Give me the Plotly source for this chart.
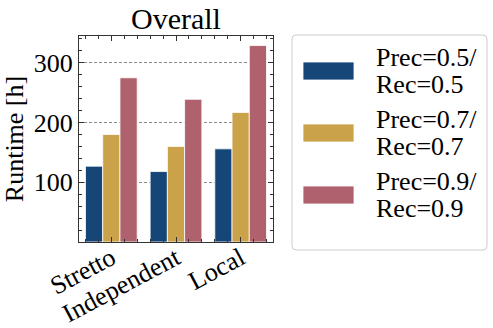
import plotly.graph_objects as go

categories = ["Stretto", "Independent", "Local"]
legend_lines = [["Prec=0.5/", "Rec=0.5"], ["Prec=0.7/", "Rec=0.7"], ["Prec=0.9/", "Rec=0.9"]]
series_names = ["<br>".join(l) for l in legend_lines]
vals_05 = [127, 118, 156]
vals_07 = [180, 160, 217]
vals_09 = [275, 239, 329]
series_values = [vals_05, vals_07, vals_09]
colors = ["#164678", "#c9a249", "#af616d"]
y_tickvals = [100, 200, 300]

W, H = 493, 328
L, R, T, B = 79, 273, 36, 242  # plot area in px

FONT = "Liberation Serif"

xs = list(range(len(categories)))
fig = go.Figure()
for name, vals, col in zip(series_names, series_values, colors):
    fig.add_trace(go.Bar(x=xs, y=vals, name=name, marker=dict(color=col, line=dict(color="white", width=0.8)),
                         showlegend=False))

def px2x(px):
    return (px - L) / (R - L)

def py2y(py):
    return (B - py) / (B - T)

axis_common = dict(showline=True, linecolor="#333", linewidth=1, mirror="allticks", automargin=False,
                   ticks="inside", ticklen=5, tickcolor="#333", tickwidth=1,
                   tickfont=dict(family=FONT, size=26, color="black"))

fig.update_layout(
    width=W, height=H,
    margin=dict(l=L, r=W - R, t=T, b=H - B, pad=0),
    paper_bgcolor="white", plot_bgcolor="white",
    barmode="group", bargap=0.2, bargroupgap=0,
    font=dict(family=FONT, color="black"),
    xaxis=dict(range=[-0.5, len(categories) - 0.5], tickvals=xs, ticktext=categories, tickangle=-28,
               showgrid=False, zeroline=False, ticklabelstandoff=-10,
               minor=dict(dtick=0.2, tick0=0, ticks="inside", ticklen=3, tickcolor="#333", showgrid=False),
               **axis_common),
    yaxis=dict(range=[0, 345], tickvals=y_tickvals, showgrid=True, gridcolor="#8a8a8a", griddash="3px,2px",
               gridwidth=0.8, zeroline=False,
               minor=dict(dtick=20, tick0=0, ticks="inside", ticklen=3, tickcolor="#333", showgrid=False),
               title=dict(text="Runtime [h]", font=dict(family=FONT, size=26, color="black"), standoff=6),
               **axis_common),
)

# title
fig.add_annotation(text="Overall", xref="paper", yref="paper", x=0.5, y=py2y(18), xanchor="center",
                   yanchor="middle", showarrow=False, font=dict(family=FONT, size=30, color="black"))

# manual legend with wide swatches
bx0, bx1, by0, by1 = 292, 487, 35, 250
r = 4
path = (f"M {px2x(bx0 + r)},{py2y(by0)} L {px2x(bx1 - r)},{py2y(by0)} "
        f"Q {px2x(bx1)},{py2y(by0)} {px2x(bx1)},{py2y(by0 + r)} "
        f"L {px2x(bx1)},{py2y(by1 - r)} Q {px2x(bx1)},{py2y(by1)} {px2x(bx1 - r)},{py2y(by1)} "
        f"L {px2x(bx0 + r)},{py2y(by1)} Q {px2x(bx0)},{py2y(by1)} {px2x(bx0)},{py2y(by1 - r)} "
        f"L {px2x(bx0)},{py2y(by0 + r)} Q {px2x(bx0)},{py2y(by0)} {px2x(bx0 + r)},{py2y(by0)} Z")
fig.add_shape(type="path", path=path, xref="paper", yref="paper",
              line=dict(color="#cccccc", width=1), fillcolor="white", layer="below")

centers = [71, 133, 195]
for cy, lines, col in zip(centers, legend_lines, colors):
    fig.add_shape(type="rect", xref="paper", yref="paper", x0=px2x(303), x1=px2x(354),
                  y0=py2y(cy - 9), y1=py2y(cy + 9), fillcolor=col, line=dict(color="white", width=0.8))
    for k, txt in enumerate(lines):
        fig.add_annotation(text=txt, xref="paper", yref="paper", x=px2x(374), y=py2y(cy - 13.5 + 27 * k),
                           xanchor="left", yanchor="middle", showarrow=False, height=27,
                           font=dict(family=FONT, size=26, color="black"))

fig.write_html("out.html", config={"displayModeBar": False},
               post_script="document.body.style.margin='0';document.body.style.overflow='hidden';")
